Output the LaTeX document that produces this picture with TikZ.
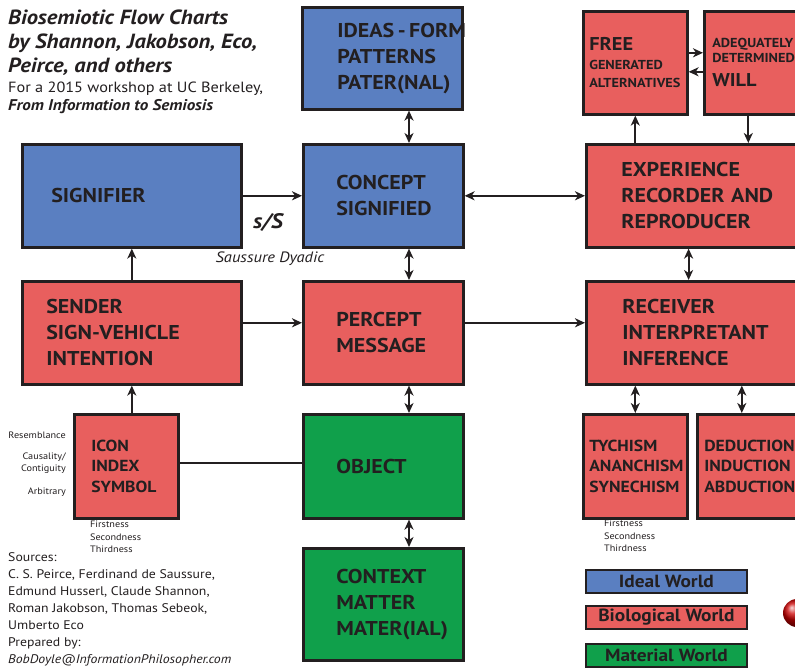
\documentclass[tikz,border=0pt]{standalone}
\usepackage{fontspec}
\setmainfont{PT Sans}[FakeStretch=1.1]
\usetikzlibrary{arrows.meta,calc}
\hyphenpenalty=10000
\exhyphenpenalty=10000
\definecolor{ideal}{HTML}{5A7FC1}
\definecolor{bio}{HTML}{E85F5E}
\definecolor{mat}{HTML}{10A04B}
\definecolor{ink}{HTML}{231F20}
\tikzset{
  >={Stealth[length=10pt,width=9pt,inset=3pt]},
  box/.style={draw=ink, line width=2.6pt, anchor=north west, inner ysep=0pt, align=left, text=ink, font=\bfseries\fontsize{20}{26}\selectfont},
  smallbox/.style={box, font=\bfseries\fontsize{16}{20.5}\selectfont},
  conn/.style={draw=ink, line width=2pt},
  arr/.style={conn,->},
  darr/.style={conn,<->},
  legend/.style={draw=ink, line width=1.8pt, minimum width=161pt, minimum height=23pt, inner sep=0pt, anchor=north west, text=ink, font=\bfseries\fontsize{17.6}{20}\selectfont},
  note/.style={text=ink, inner sep=0pt, align=left, font=\fontsize{9.3}{12.5}\selectfont},
  ttl/.style={anchor=base west, inner sep=0pt, text=ink, font=\bfseries\itshape\fontsize{20.5}{24}\selectfont},
}
\begin{document}
\begin{tikzpicture}[x=1pt,y=-1pt]
\clip (0,0) rectangle (795,668);
\fill[white] (0,0) rectangle (795,668);

% title
\node[ttl] (t1) at (8,25) {Biosemiotic Flow Charts};
\node[ttl] (t2) at (8,49) {by Shannon, Jakobson, Eco,};
\node[ttl] (t3) at (8,73) {Peirce, and others};
\node[ttl,font=\fontsize{14.8}{17}\selectfont] (t4) at (8,93) {For a 2015 workshop at UC Berkeley,};
\node[ttl,font=\bfseries\itshape\fontsize{15.5}{17}\selectfont] (t5) at (8,111) {From Information to Semiosis};

% boxes
\node[box,fill=ideal,minimum width=160pt,minimum height=102pt,inner xsep=35pt,text width=90pt] (ideas) at (301,6) {\mbox{IDEAS\hspace{3.5pt}-\hspace{3.5pt}FORM}\\PATTERNS\\PATER(NAL)};
\node[box,fill=ideal,minimum width=219pt,minimum height=103pt,inner xsep=29pt,text width=161pt] (signifier) at (21,143) {SIGNIFIER};
\node[box,fill=ideal,minimum width=160pt,minimum height=103pt,inner xsep=33pt,text width=94pt] (concept) at (302,143) {CONCEPT\\SIGNIFIED};
\node[box,fill=bio,minimum width=216pt,minimum height=103pt,inner xsep=35pt,text width=146pt] (experience) at (585,143) {EXPERIENCE\\RECORDER~AND\\REPRODUCER};
\node[box,fill=bio,minimum width=104pt,minimum height=103pt,inner xsep=6pt,text width=92pt,font=\bfseries\fontsize{13}{18}\selectfont] (free) at (582,10) {\fontsize{18.5}{18}\selectfont FREE\\[1pt]\fontsize{13}{18}\selectfont GENERATED\\ALTERNATIVES};
\node[box,fill=bio,minimum width=98pt,minimum height=103pt,inner xsep=8pt,text width=82pt,font=\bfseries\fontsize{18.5}{24}\selectfont] (adeq) at (703,10) {\fontsize{13}{15}\selectfont ADEQUATELY\\DETERMINED\\\fontsize{18.5}{24}\selectfont WILL};
\node[box,fill=bio,minimum width=219pt,minimum height=103pt,inner xsep=24pt,text width=171pt] (sender) at (21,280) {SENDER\\SIGN-VEHICLE\\INTENTION};
\node[box,fill=bio,minimum width=160pt,minimum height=103pt,inner xsep=33pt,text width=94pt] (percept) at (302,280) {PERCEPT\\MESSAGE};
\node[box,fill=bio,minimum width=216pt,minimum height=103pt,inner xsep=36pt,text width=144pt] (receiver) at (585,280) {RECEIVER\\INTERPRETANT\\INFERENCE};
\node[smallbox,fill=bio,minimum width=104pt,minimum height=104pt,inner xsep=17pt,text width=70pt] (icon) at (73,413) {ICON\\INDEX\\SYMBOL};
\node[box,fill=mat,minimum width=160pt,minimum height=104pt,inner xsep=33pt,text width=94pt] (object) at (302,413) {OBJECT};
\node[smallbox,fill=bio,minimum width=104pt,minimum height=104pt,inner xsep=6pt,text width=92pt] (tychism) at (582,413) {TYCHISM\\ANANCHISM\\SYNECHISM};
\node[smallbox,fill=bio,minimum width=105pt,minimum height=104pt,inner xsep=7pt,text width=91pt] (deduction) at (696,413) {DEDUCTION\\INDUCTION\\ABDUCTION};
\node[box,fill=mat,minimum width=160pt,minimum height=112pt,inner xsep=33pt,text width=94pt] (context) at (302,547) {CONTEXT\\MATTER\\MATER(IAL)};

% connectors
\coordinate (mx) at (409,0);
\draw[darr] (mx |- ideas.south) -- (mx |- concept.north);
\draw[arr] (signifier.east) -- (concept.west);
\draw[darr] (concept.east) -- (experience.west);
\draw[darr] (mx |- concept.south) -- (mx |- percept.north);
\draw[arr] (sender.north) -- (sender.north |- signifier.south);
\coordinate (s1) at ([yshift=10pt]sender.east);
\coordinate (p1) at ([yshift=10pt]percept.east);
\draw[arr] (s1) -- (s1 -| percept.west);
\draw[arr] (p1) -- (p1 -| receiver.west);
\draw[darr] (free.east |- experience.south) -- (free.east |- receiver.north);
\draw[arr] (free.south |- experience.north) -- (free.south);
\coordinate (a1) at ([xshift=-5pt]adeq.south);
\draw[arr] (a1) -- (a1 |- experience.north);
\coordinate (f1) at ([yshift=10pt]free.east);
\coordinate (f2) at ([yshift=-9pt]adeq.west);
\draw[arr] (f1) -- (f1 -| adeq.west);
\draw[arr] (f2) -- (f2 -| free.east);
\draw[arr] (icon.north -| sender.south) -- (sender.south);
\coordinate (i1) at ([yshift=3pt]icon.east);
\draw[conn] (i1) -- (i1 -| object.west);
\draw[darr] (mx |- percept.south) -- (mx |- object.north);
\draw[darr] (mx |- object.south) -- (mx |- context.north);
\draw[darr] (tychism.north |- receiver.south) -- (tychism.north);
\coordinate (d1) at ([xshift=-8pt]deduction.north);
\draw[darr] (d1 |- receiver.south) -- (d1);

% labels
\node[text=ink,inner sep=0pt,font=\bfseries\itshape\fontsize{21}{24}\selectfont] (ss) at (268,222) {s/S};
\node[text=ink,inner sep=0pt,font=\itshape\fontsize{15}{17}\selectfont] (sd) at (270,259) {Saussure Dyadic};

\node[note,anchor=east] (res) at (66,435) {Resemblance};
\node[note,anchor=east,align=right] (cau) at (66,463) {Causality/\\Contiguity};
\node[note,anchor=east] (arb) at (66,492) {Arbitrary};
\node[note,anchor=north west] (fst1) at (90,521) {Firstness\\Secondness\\Thirdness};
\node[note,anchor=north west] (fst2) at (604,520) {Firstness\\Secondness\\Thirdness};

\node[anchor=north west,inner sep=0pt,align=left,text=ink,font=\fontsize{12.5}{17}\selectfont] (src) at (8,552) {Sources:\\C. S. Peirce, Ferdinand de Saussure,\\Edmund Husserl, Claude Shannon,\\Roman Jakobson, Thomas Sebeok,\\Umberto Eco\\Prepared by:\\\textit{BobDoyle@InformationPhilosopher.com}};

% legend
\node[legend,fill=ideal] (lideal) at (585,569) {Ideal World};
\node[legend,fill=bio] (lbio) at (585,605) {Biological World};
\node[legend,fill=mat] (lmat) at (585,643) {Material World};
\shade[ball color=red!80!black] (797,613) circle (14);
\end{tikzpicture}
\end{document}
